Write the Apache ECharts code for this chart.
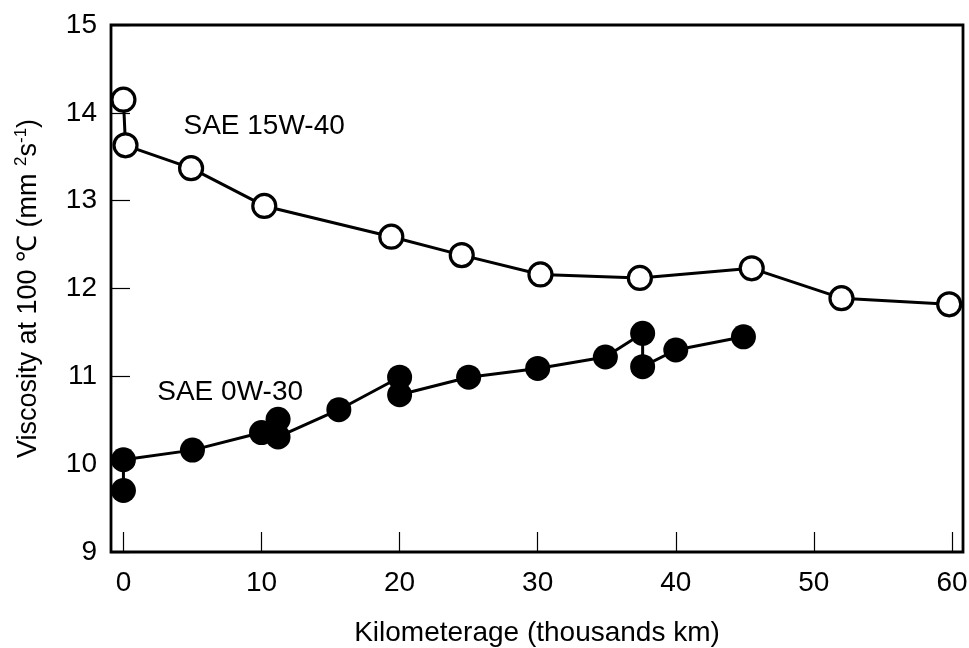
<!DOCTYPE html>
<html>
<head>
<meta charset="utf-8">
<script src="https://cdn.jsdelivr.net/npm/echarts@6/dist/echarts.min.js"></script>
<style>html,body{margin:0;padding:0;background:#fff}#c{width:969px;height:648px}</style>
</head>
<body>
<div id="c"></div>
<script>
// Tick values
var xTicks = [0, 10, 20, 30, 40, 50, 60];
var yTicks = [9, 10, 11, 12, 13, 14, 15];

// SAE 15W-40 (open circles)
var km15w40 = [0, 0.15, 4.9, 10.2, 19.4, 24.5, 30.2, 37.4, 45.5, 52.0, 59.8];
var visc15w40 = [14.15, 13.63, 13.37, 12.94, 12.59, 12.38, 12.16, 12.12, 12.23, 11.89, 11.82];

// SAE 0W-30 (filled circles)
var km0w30 = [0, 0, 5.0, 10.0, 11.2, 11.2, 15.6, 20, 20, 25, 30, 34.9, 37.6, 37.6, 40, 44.9];
var visc0w30 = [9.70, 10.05, 10.16, 10.36, 10.51, 10.31, 10.62, 10.99, 10.79, 10.99, 11.09, 11.22, 11.49, 11.11, 11.30, 11.45];

// Series labels
var labels = ["SAE 15W-40", "SAE 0W-30"];
var labelAnchors = [[4.35, 13.85], [2.45, 10.82]];

function pairs(xs, ys) { return xs.map(function (x, i) { return [x, ys[i]]; }); }

var FONT = "'Liberation Sans', Arial, sans-serif";
var chart = echarts.init(document.getElementById('c'), null, { renderer: 'canvas' });

chart.setOption({
  animation: false,
  backgroundColor: '#fff',
  textStyle: { fontFamily: FONT, color: '#000' },
  grid: {
    left: 111, right: 6, top: 25, bottom: 96,
    outerBoundsMode: 'none', containLabel: false,
    show: true, borderColor: '#000', borderWidth: 2.8, backgroundColor: 'transparent'
  },
  xAxis: {
    type: 'value', min: -0.9, max: 60.8,
    axisLine: { show: false, onZero: false },
    splitLine: { show: false },
    axisTick: { show: true, inside: true, length: 20, lineStyle: { color: '#000', width: 1.2 }, customValues: xTicks },
    axisLabel: { color: '#000', fontSize: 28, fontFamily: FONT, margin: 17, customValues: xTicks },
    name: 'Kilometerage (thousands km)', nameLocation: 'middle', nameGap: 67,
    nameTextStyle: { color: '#000', fontSize: 28, fontFamily: FONT }
  },
  yAxis: {
    type: 'value', min: 9, max: 15, interval: 1,
    axisLine: { show: false, onZero: false },
    splitLine: { show: false },
    axisTick: { show: true, inside: true, length: 19, lineStyle: { color: '#000', width: 1.2 } },
    axisLabel: { color: '#000', fontSize: 28, fontFamily: FONT, margin: 14, customValues: yTicks },
    name: 'Viscosity at 100 ℃ (mm {sup|2}s{sup|-1})', nameLocation: 'middle', nameGap: 66,
    nameTextStyle: {
      color: '#000', fontSize: 27, fontFamily: FONT, lineHeight: 32,
      rich: { sup: { fontSize: 17, fontFamily: FONT, color: '#000', verticalAlign: 'top', lineHeight: 14 } }
    }
  },
  series: [
    {
      type: 'line', name: labels[0], data: pairs(km15w40, visc15w40),
      symbol: 'circle', symbolSize: 23, clip: false,
      lineStyle: { color: '#000', width: 3 },
      itemStyle: { color: '#fff', borderColor: '#000', borderWidth: 3.2 },
      markPoint: {
        symbol: 'circle', symbolSize: 0,
        label: { show: true, position: 'right', distance: 0, color: '#000', fontSize: 28, fontFamily: FONT, formatter: labels[0] },
        data: [{ coord: labelAnchors[0] }]
      },
      z: 3
    },
    {
      type: 'line', name: labels[1], data: pairs(km0w30, visc0w30),
      symbol: 'circle', symbolSize: 25, clip: false,
      lineStyle: { color: '#000', width: 3 },
      itemStyle: { color: '#000', borderColor: '#000', borderWidth: 0 },
      markPoint: {
        symbol: 'circle', symbolSize: 0,
        label: { show: true, position: 'right', distance: 0, color: '#000', fontSize: 28, fontFamily: FONT, formatter: labels[1] },
        data: [{ coord: labelAnchors[1] }]
      },
      z: 3
    }
  ]
});
</script>
</body>
</html>
